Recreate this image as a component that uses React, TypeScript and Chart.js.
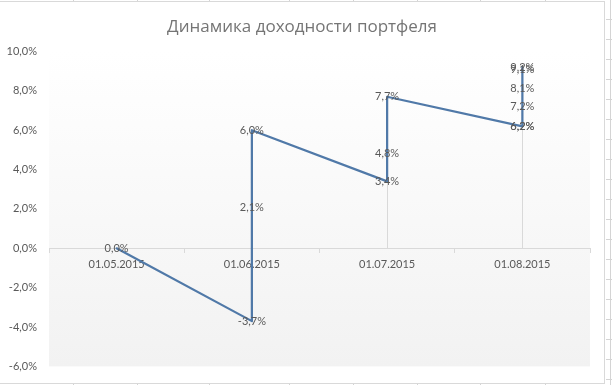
import React, { useEffect, useRef } from "react";
import { Chart, registerables } from "chart.js";

Chart.register(...registerables);

const title = "Динамика доходности портфеля";
const categories = ["01.05.2015", "01.06.2015", "01.07.2015", "01.08.2015"];
const pointCategories = [
  "01.05.2015",
  "01.06.2015", "01.06.2015", "01.06.2015",
  "01.07.2015", "01.07.2015", "01.07.2015",
  "01.08.2015", "01.08.2015", "01.08.2015", "01.08.2015", "01.08.2015", "01.08.2015",
];
const values = [0.0, -3.7, 2.1, 6.0, 3.4, 4.8, 7.7, 6.2, 6.2, 7.2, 8.1, 9.1, 9.2];
const yMin = -6;
const yMax = 10;
const yStep = 2;

const fmt = (v: number) => v.toFixed(1).replace(".", ",") + "%";

const LABEL_FONT = "11px Lato, 'Noto Sans', sans-serif";
const TEXT_COLOR = "#595959";

const framePlugin = {
  id: "frame",
  beforeDraw(chart: any) {
    const { ctx, chartArea, width, height } = chart;
    ctx.save();
    ctx.fillStyle = "#ffffff";
    ctx.fillRect(0, 0, width, height);
    // spreadsheet cells outside the chart
    ctx.strokeStyle = "#d4d4d4";
    ctx.lineWidth = 1;
    ctx.beginPath();
    ctx.moveTo(610.5, 0);
    ctx.lineTo(610.5, height);
    for (let y = 19.5; y < height; y += 20) {
      ctx.moveTo(606, y);
      ctx.lineTo(width, y);
    }
    const cols = [73, 137, 209, 289, 353, 417, 480, 545];
    for (const x of cols) {
      ctx.moveTo(x + 0.5, 383);
      ctx.lineTo(x + 0.5, height);
      ctx.moveTo(x + 0.5, 0);
      ctx.lineTo(x + 0.5, 1);
    }
    ctx.stroke();
    // chart border
    ctx.strokeStyle = "#d9d9d9";
    ctx.strokeRect(-1.5, 1.5, 606, 382);
    // plot area gradient
    const g = ctx.createLinearGradient(0, chartArea.top, 0, chartArea.bottom);
    g.addColorStop(0, "#ffffff");
    g.addColorStop(1, "#f2f2f2");
    ctx.fillStyle = g;
    ctx.fillRect(chartArea.left, chartArea.top, chartArea.right - chartArea.left, chartArea.bottom - chartArea.top);
    // title
    ctx.fillStyle = "#757575";
    ctx.font = "17px 'Open Sans', 'Noto Sans', sans-serif";
    ctx.textAlign = "center";
    ctx.textBaseline = "middle";
    ctx.fillText(title, 302, 27);
    ctx.restore();
  },
  beforeDatasetsDraw(chart: any) {
    const { ctx } = chart;
    const meta = chart.getDatasetMeta(0);
    const y0 = chart.scales.y.getPixelForValue(0);
    ctx.save();
    ctx.strokeStyle = "#d9d9d9";
    ctx.lineWidth = 1;
    ctx.beginPath();
    for (const el of meta.data) {
      const x = Math.round(el.x) + 0.5;
      ctx.moveTo(x, el.y);
      ctx.lineTo(x, y0);
    }
    ctx.stroke();
    ctx.restore();
  },
  afterDatasetsDraw(chart: any) {
    const { ctx } = chart;
    const meta = chart.getDatasetMeta(0);
    ctx.save();
    ctx.font = LABEL_FONT;
    ctx.fillStyle = TEXT_COLOR;
    ctx.textAlign = "center";
    ctx.textBaseline = "middle";
    meta.data.forEach((el: any, i: number) => {
      ctx.fillText(fmt(values[i]), el.x, el.y);
    });
    ctx.restore();
  },
};

export default function App() {
  const ref = useRef<HTMLCanvasElement | null>(null);

  useEffect(() => {
    document.body.style.margin = "0";
    if (!ref.current) return;
    const chart = new Chart(ref.current, {
      type: "line",
      data: {
        labels: categories,
        datasets: [
          {
            data: values.map((v, i) => ({ x: pointCategories[i], y: v })),
            borderColor: "#5079a8",
            borderWidth: 2.25,
            pointRadius: 0,
            pointHoverRadius: 0,
            tension: 0,
            fill: false,
            borderJoinStyle: "round",
            borderCapStyle: "round",
          },
        ],
      },
      options: {
        responsive: false,
        animation: false,
        events: [],
        layout: { padding: { top: 51.5, right: 22, bottom: 18, left: 0 } },
        plugins: {
          legend: { display: false },
          title: { display: false },
          tooltip: { enabled: false },
        },
        scales: {
          x: {
            type: "category",
            position: { y: 0 } as any,
            offset: true,
            grid: {
              display: true,
              drawOnChartArea: false,
              drawTicks: true,
              tickLength: 4,
              offset: true,
              color: "#d9d9d9",
            },
            border: { display: true, color: "#d9d9d9" },
            ticks: {
              font: { family: "Lato, 'Noto Sans', sans-serif", size: 11 },
              color: TEXT_COLOR,
              padding: 6,
              maxRotation: 0,
              autoSkip: false,
            },
            afterFit(scale: any) {
              scale.height = 0;
            },
          },
          y: {
            type: "linear",
            min: yMin,
            max: yMax,
            grid: { display: false, drawTicks: false },
            border: { display: false },
            ticks: {
              stepSize: yStep,
              padding: 12,
              font: { family: "Lato, 'Noto Sans', sans-serif", size: 11 },
              color: TEXT_COLOR,
              callback: (v: any) => fmt(Number(v)),
            },
            afterFit(scale: any) {
              scale.width = 49;
            },
          },
        },
      },
      plugins: [framePlugin],
    });
    return () => chart.destroy();
  }, []);

  return (
    <div style={{ width: 612, height: 385, position: "relative" }}>
      <canvas ref={ref} width={612} height={385} style={{ display: "block" }} />
    </div>
  );
}
